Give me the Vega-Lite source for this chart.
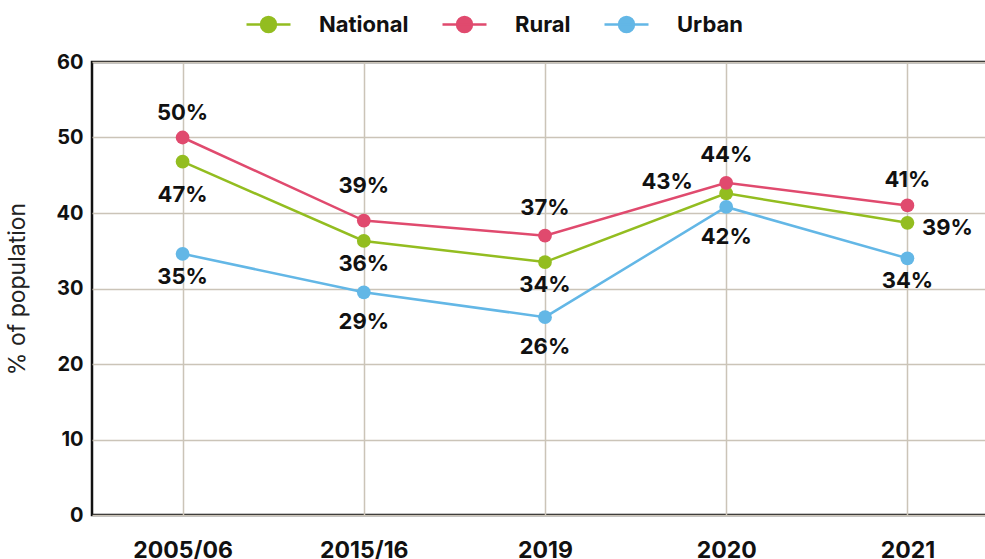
{
  "$schema": "https://vega.github.io/schema/vega-lite/v6.json",
  "width": 906,
  "height": 453,
  "padding": {"left": 6, "top": 1, "right": 0, "bottom": 0},
  "background": "white",
  "config": {
    "font": "Inter",
    "view": {"stroke": "#111", "strokeWidth": 2.5},
    "axis": {"gridColor": "#cbc4b8", "gridWidth": 1.5, "domain": false, "ticks": false}
  },
  "data": {"values": [
    {"year": "2005/06", "series": "National", "value": 46.8, "label": "47%"},
    {"year": "2015/16", "series": "National", "value": 36.3, "label": "36%"},
    {"year": "2019", "series": "National", "value": 33.5, "label": "34%"},
    {"year": "2020", "series": "National", "value": 42.6, "label": "43%"},
    {"year": "2021", "series": "National", "value": 38.7, "label": "39%"},
    {"year": "2005/06", "series": "Rural", "value": 50.0, "label": "50%"},
    {"year": "2015/16", "series": "Rural", "value": 39.0, "label": "39%"},
    {"year": "2019", "series": "Rural", "value": 37.0, "label": "37%"},
    {"year": "2020", "series": "Rural", "value": 44.0, "label": "44%"},
    {"year": "2021", "series": "Rural", "value": 41.0, "label": "41%"},
    {"year": "2005/06", "series": "Urban", "value": 34.6, "label": "35%"},
    {"year": "2015/16", "series": "Urban", "value": 29.5, "label": "29%"},
    {"year": "2019", "series": "Urban", "value": 26.2, "label": "26%"},
    {"year": "2020", "series": "Urban", "value": 40.8, "label": "42%"},
    {"year": "2021", "series": "Urban", "value": 34.0, "label": "34%"}
  ]},
  "encoding": {
    "x": {"field": "year", "type": "ordinal", "sort": null,
      "scale": {"type": "point", "padding": 0.5},
      "axis": {"title": null, "labelAngle": 0, "labelFontSize": 23, "labelFontWeight": "bold", "labelColor": "#111", "labelPadding": 24, "grid": true}},
    "y": {"field": "value", "type": "quantitative",
      "scale": {"domain": [0, 60]},
      "axis": {"title": "% of population", "titleFontSize": 23, "titleFontWeight": "normal", "titleColor": "#222", "titlePadding": 26,
        "values": [0, 10, 20, 30, 40, 50, 60], "labelFontSize": 20, "labelFontWeight": "bold", "labelColor": "#111", "labelPadding": 9}}
  },
  "layer": [
    {"mark": {"type": "line", "strokeWidth": 2.5},
      "encoding": {"color": {"field": "series", "type": "nominal",
        "scale": {"domain": ["National", "Rural", "Urban"], "range": ["#93bd20", "#e04a6e", "#63b7e6"]},
        "legend": {"title": null, "orient": "none", "direction": "horizontal", "legendX": 153, "legendY": -61,
          "symbolType": "M-1,0L1,0M-0.34,0A0.34,0.34,0,1,1,0.34,0A0.34,0.34,0,1,1,-0.34,0Z",
          "symbolSize": 1936, "symbolStrokeWidth": 2.5, "labelFontSize": 22, "labelFontWeight": "bold", "labelColor": "#111",
          "labelOffset": 27, "columnPadding": 28,
          "encode": {"symbols": {"update": {"fill": {"scale": "color", "field": "value"}, "stroke": {"scale": "color", "field": "value"}}}}}}}},
    {"mark": {"type": "point", "filled": true, "size": 190, "opacity": 1},
      "encoding": {"color": {"field": "series", "type": "nominal", "legend": null}}},
    {"transform": [{"filter": "datum.series == 'Rural' && (datum.year == '2005/06' || datum.year == '2021')"}],
      "mark": {"type": "text", "fontSize": 22, "fontWeight": "bold", "color": "#111", "dy": -25}, "encoding": {"text": {"field": "label"}}},
    {"transform": [{"filter": "datum.series == 'Rural' && (datum.year == '2019' || datum.year == '2020')"}],
      "mark": {"type": "text", "fontSize": 22, "fontWeight": "bold", "color": "#111", "dy": -28}, "encoding": {"text": {"field": "label"}}},
    {"transform": [{"filter": "datum.series == 'Rural' && datum.year == '2015/16'"}],
      "mark": {"type": "text", "fontSize": 22, "fontWeight": "bold", "color": "#111", "dy": -35}, "encoding": {"text": {"field": "label"}}},
    {"transform": [{"filter": "datum.series == 'Urban' && (datum.year == '2005/06' || datum.year == '2021')"}],
      "mark": {"type": "text", "fontSize": 22, "fontWeight": "bold", "color": "#111", "dy": 23}, "encoding": {"text": {"field": "label"}}},
    {"transform": [{"filter": "datum.series == 'Urban' && datum.year != '2005/06' && datum.year != '2021'"}],
      "mark": {"type": "text", "fontSize": 22, "fontWeight": "bold", "color": "#111", "dy": 30}, "encoding": {"text": {"field": "label"}}},
    {"transform": [{"filter": "datum.series == 'National' && datum.year == '2005/06'"}],
      "mark": {"type": "text", "fontSize": 22, "fontWeight": "bold", "color": "#111", "dy": 33}, "encoding": {"text": {"field": "label"}}},
    {"transform": [{"filter": "datum.series == 'National' && (datum.year == '2015/16' || datum.year == '2019')"}],
      "mark": {"type": "text", "fontSize": 22, "fontWeight": "bold", "color": "#111", "dy": 23}, "encoding": {"text": {"field": "label"}}},
    {"transform": [{"filter": "datum.series == 'National' && datum.year == '2020'"}],
      "mark": {"type": "text", "fontSize": 22, "fontWeight": "bold", "color": "#111", "dx": -59, "dy": -11}, "encoding": {"text": {"field": "label"}}},
    {"transform": [{"filter": "datum.series == 'National' && datum.year == '2021'"}],
      "mark": {"type": "text", "fontSize": 22, "fontWeight": "bold", "color": "#111", "dx": 40, "dy": 5}, "encoding": {"text": {"field": "label"}}}
  ]
}
